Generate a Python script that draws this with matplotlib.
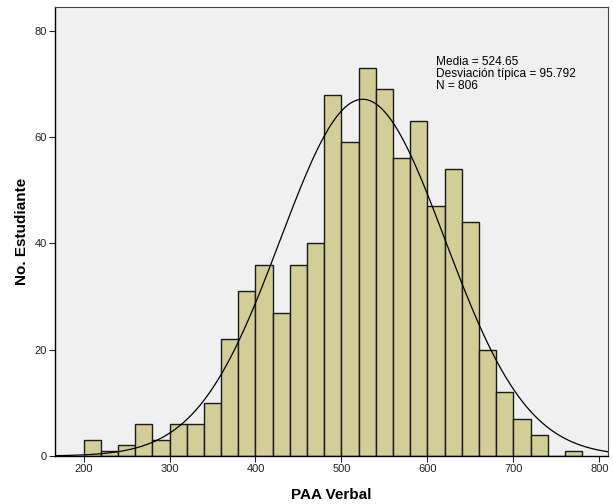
import numpy as np
import matplotlib.pyplot as plt

plt.rcParams["font.family"] = ["Liberation Sans", "DejaVu Sans"]

# histogram of PAA Verbal scores, bins of 20 points starting at 200
bin_starts = list(range(200, 780, 20))
counts = [3, 1, 2, 6, 3, 6, 6, 10, 22, 31, 36, 27, 36, 40, 68,
          59, 73, 69, 56, 63, 47, 54, 44, 20, 12, 7, 4, 0, 1]
mean = 524.65
std = 95.792
n = 806
bin_width = 20

x_ticks = [200, 300, 400, 500, 600, 700, 800]
y_ticks = [0, 20, 40, 60, 80]


def main() -> None:
    fig = plt.figure(figsize=(6.13, 5.04), dpi=100)
    ax = fig.add_axes([55 / 613, 48 / 504, 553 / 613, 449 / 504])
    ax.set_facecolor("#f0f0f0")

    ax.bar(bin_starts, counts, width=bin_width, align="edge",
           color="#d3ce97", edgecolor="#1a1a1a", linewidth=1.0)

    # fitted normal curve scaled to counts per bin
    xlo, xhi = 166.8, 810.0
    xs = np.linspace(xlo, xhi, 400)
    curve = n * bin_width * np.exp(-0.5 * ((xs - mean) / std) ** 2) / (std * np.sqrt(2 * np.pi))
    ax.plot(xs, curve, color="black", linewidth=0.9)

    ax.set_xlim(xlo, xhi)
    ax.set_ylim(0, 84.5)
    ax.set_xticks(x_ticks)
    ax.set_yticks(y_ticks)
    ax.tick_params(direction="out", length=4, width=0.8, labelsize=8,
                   colors="#222222", pad=2)

    for side in ["left", "bottom"]:
        ax.spines[side].set_color("black")
        ax.spines[side].set_linewidth(1.0)
    for side in ["top", "right"]:
        ax.spines[side].set_color("#444444")
        ax.spines[side].set_linewidth(0.8)

    ax.set_xlabel("PAA Verbal", fontsize=11, fontweight="bold", labelpad=10)
    ax.set_ylabel("No. Estudiante", fontsize=11, fontweight="bold", labelpad=4)

    ax.text(0.689, 0.89,
            f"Media = {mean}\nDesviación típica = {std}\nN = {n}",
            transform=ax.transAxes, va="top", ha="left",
            fontsize=8.6, linespacing=1.0)

    fig.savefig("out.png", dpi=100, facecolor="white")


if __name__ == "__main__":
    main()
